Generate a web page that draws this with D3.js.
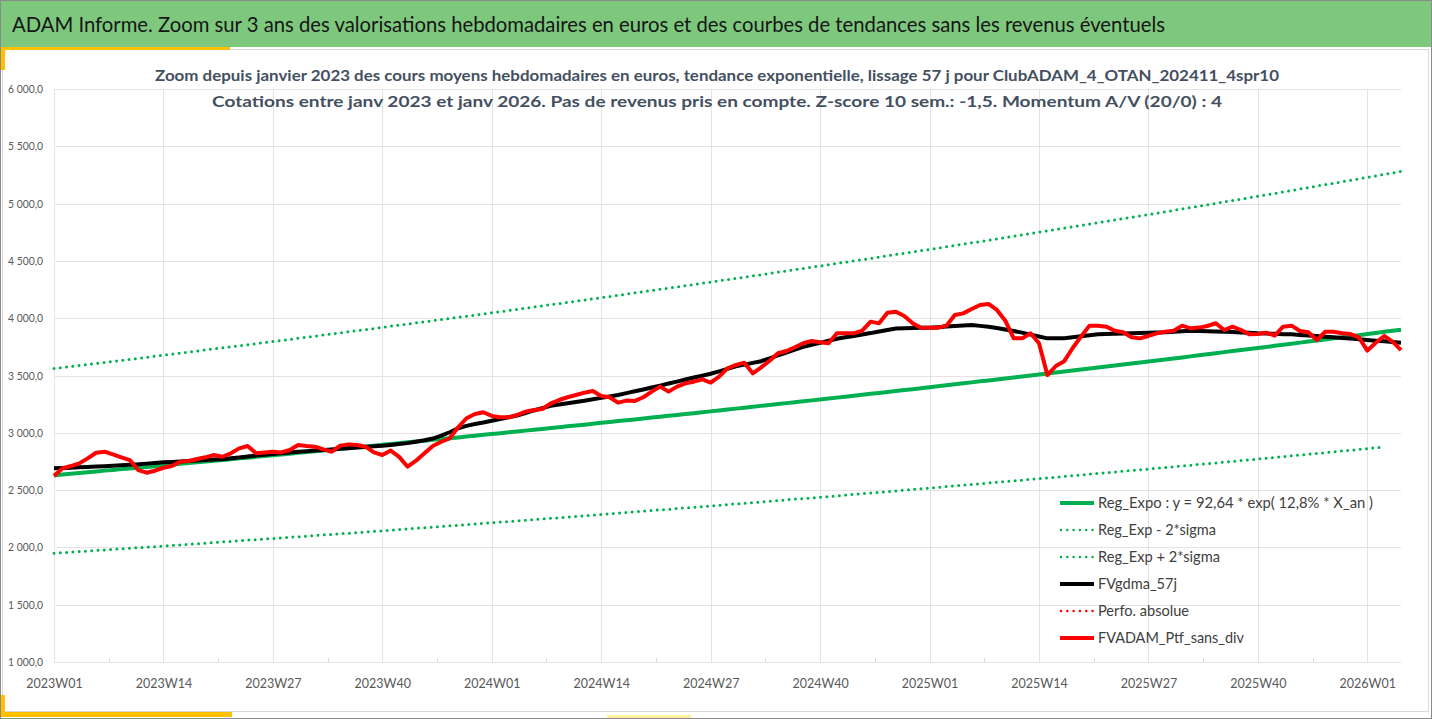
<!DOCTYPE html>
<html>
<head>
<meta charset="utf-8">
<script src="https://cdn.jsdelivr.net/npm/d3@7"></script>
<style>
  body { margin: 0; background: #fff; }
  svg { display: block; font-family: Lato, "Open Sans", sans-serif; }
</style>
</head>
<body>
<script>
// categories : semaines ISO 2023W01 .. 2026W05
const years = [2023, 2024, 2025];
const weeksPerYear = 52;
const lastYear = 2026;
const lastYearWeeks = 5;

const tickLabels = ["2023W01", "2023W14", "2023W27", "2023W40", "2024W01", "2024W14", "2024W27",
  "2024W40", "2025W01", "2025W14", "2025W27", "2025W40", "2026W01"];
const yTicks = [1000, 1500, 2000, 2500, 3000, 3500, 4000, 4500, 5000, 5500, 6000];

const titleText = "ADAM Informe. Zoom sur 3 ans des valorisations hebdomadaires en euros et des courbes de tendances sans les revenus éventuels";
const subTitle1 = "Zoom depuis janvier 2023 des cours moyens hebdomadaires  en euros, tendance exponentielle, lissage 57 j pour ClubADAM_4_OTAN_202411_4spr10";
const subTitle2 = "Cotations entre janv 2023 et janv 2026. Pas de revenus pris en compte. Z-score 10 sem.: -1,5. Momentum A/V (20/0) : 4";

// Reg_Expo
const regExpo = [
  2630, 2637, 2643, 2650, 2656, 2663, 2670, 2676, 2683, 2689, 2696, 2702, 2709,
  2716, 2722, 2729, 2736, 2743, 2750, 2756, 2763, 2770, 2777, 2783, 2790, 2797,
  2804, 2811, 2818, 2825, 2832, 2839, 2846, 2853, 2860, 2867, 2874, 2881, 2888,
  2895, 2902, 2910, 2917, 2924, 2931, 2939, 2946, 2953, 2960, 2968, 2975, 2982,
  2989, 2997, 3004, 3012, 3019, 3027, 3034, 3042, 3049, 3057, 3064, 3071, 3079,
  3087, 3094, 3102, 3110, 3117, 3125, 3133, 3141, 3148, 3156, 3164, 3171, 3179,
  3187, 3195, 3203, 3211, 3219, 3227, 3235, 3243, 3251, 3259, 3267, 3275, 3283,
  3291, 3299, 3307, 3315, 3324, 3332, 3340, 3348, 3356, 3365, 3373, 3381, 3389,
  3398, 3406, 3415, 3423, 3432, 3440, 3449, 3457, 3466, 3474, 3483, 3491, 3500,
  3508, 3517, 3526, 3534, 3543, 3552, 3561, 3570, 3578, 3587, 3596, 3605, 3613,
  3622, 3631, 3640, 3649, 3658, 3667, 3676, 3685, 3695, 3704, 3713, 3722, 3731,
  3740, 3749, 3759, 3768, 3777, 3787, 3796, 3806, 3815, 3824, 3834, 3843, 3852,
  3862, 3871, 3881, 3890, 3900
];

// Reg_Exp - 2*sigma
const regLow = [
  1949, 1954, 1959, 1964, 1968, 1973, 1978, 1983, 1988, 1993, 1998, 2002, 2007,
  2012, 2017, 2022, 2027, 2032, 2037, 2042, 2048, 2053, 2058, 2063, 2068, 2073,
  2078, 2083, 2088, 2093, 2099, 2104, 2109, 2114, 2119, 2124, 2129, 2135, 2140,
  2145, 2150, 2156, 2161, 2167, 2172, 2177, 2183, 2188, 2193, 2199, 2204, 2210,
  2215, 2221, 2226, 2232, 2237, 2243, 2248, 2254, 2259, 2265, 2270, 2276, 2281,
  2287, 2293, 2299, 2304, 2310, 2316, 2322, 2327, 2333, 2339, 2345, 2350, 2356,
  2362, 2368, 2374, 2380, 2385, 2391, 2397, 2403, 2409, 2415, 2421, 2426, 2432,
  2438, 2444, 2450, 2456, 2463, 2469, 2475, 2481, 2487, 2493, 2500, 2506, 2512,
  2518, 2524, 2531, 2537, 2543, 2550, 2556, 2562, 2569, 2575, 2581, 2587, 2594,
  2600, 2606, 2613, 2619, 2626, 2632, 2639, 2645, 2652, 2658, 2665, 2671, 2678,
  2684, 2691, 2697, 2704, 2711, 2717, 2724, 2731, 2737, 2744, 2751, 2758, 2764,
  2771, 2778, 2785, 2792, 2799, 2806, 2813, 2820, 2827, 2834, 2841, 2848, 2855,
  2862, 2869, 2876
];

// Reg_Exp + 2*sigma
const regHigh = [
  3561, 3570, 3579, 3588, 3597, 3606, 3615, 3623, 3632, 3641, 3650, 3659, 3668,
  3677, 3686, 3695, 3704, 3714, 3723, 3732, 3741, 3750, 3759, 3768, 3778, 3787,
  3796, 3806, 3815, 3825, 3834, 3844, 3853, 3863, 3872, 3882, 3891, 3901, 3910,
  3920, 3930, 3940, 3949, 3959, 3969, 3979, 3988, 3998, 4008, 4018, 4027, 4037,
  4047, 4057, 4067, 4077, 4088, 4098, 4108, 4118, 4128, 4138, 4149, 4159, 4169,
  4179, 4189, 4200, 4210, 4221, 4231, 4242, 4252, 4263, 4273, 4284, 4294, 4305,
  4315, 4326, 4337, 4348, 4358, 4369, 4380, 4391, 4402, 4413, 4424, 4434, 4445,
  4456, 4467, 4478, 4489, 4500, 4511, 4522, 4534, 4545, 4556, 4567, 4578, 4589,
  4600, 4612, 4623, 4635, 4646, 4658, 4669, 4681, 4692, 4704, 4715, 4727, 4738,
  4750, 4762, 4774, 4786, 4797, 4809, 4821, 4833, 4845, 4857, 4869, 4880, 4892,
  4904, 4916, 4929, 4941, 4953, 4966, 4978, 4990, 5002, 5015, 5027, 5039, 5052,
  5064, 5077, 5089, 5102, 5115, 5127, 5140, 5153, 5165, 5178, 5191, 5203, 5216,
  5229, 5242, 5255, 5268, 5281
];

// FVgdma_57j (moyenne lissée)
const fvGdma = [
  2690, 2693, 2696, 2699, 2702, 2705, 2709, 2713, 2717, 2721, 2725, 2731, 2737,
  2742, 2746, 2750, 2754, 2758, 2762, 2766, 2770, 2777, 2785, 2793, 2801, 2808,
  2815, 2821, 2828, 2834, 2840, 2845, 2850, 2855, 2860, 2865, 2871, 2876, 2882,
  2887, 2894, 2902, 2910, 2922, 2935, 2950, 2975, 3005, 3040, 3060, 3077, 3090,
  3105, 3120, 3135, 3150, 3172, 3195, 3215, 3235, 3247, 3258, 3269, 3280, 3292,
  3305, 3317, 3330, 3346, 3362, 3378, 3395, 3412, 3430, 3447, 3465, 3482, 3498,
  3515, 3536, 3558, 3580, 3595, 3610, 3625, 3650, 3675, 3700, 3725, 3750, 3768,
  3785, 3803, 3820, 3833, 3845, 3858, 3870, 3884, 3897, 3910, 3912, 3914, 3916,
  3917, 3922, 3927, 3932, 3936, 3940, 3933, 3925, 3915, 3901, 3888, 3874, 3857,
  3840, 3824, 3824, 3825, 3834, 3843, 3851, 3860, 3862, 3864, 3866, 3868, 3870,
  3872, 3875, 3877, 3882, 3886, 3891, 3889, 3886, 3884, 3882, 3879, 3875, 3872,
  3868, 3866, 3864, 3861, 3859, 3854, 3849, 3844, 3839, 3833, 3827, 3822, 3816,
  3810, 3804, 3798, 3792, 3786
];

// Perfo. absolue : pas de valeurs tracées
const perfoAbsolue = [];

// FVADAM_Ptf_sans_div
const fvAdam = [
  2623, 2690, 2710, 2733, 2777, 2826, 2835, 2812, 2786, 2762, 2675, 2652, 2669,
  2695, 2710, 2748, 2754, 2771, 2786, 2806, 2791, 2821, 2864, 2885, 2821, 2829,
  2835, 2829, 2850, 2893, 2885, 2879, 2855, 2835, 2888, 2899, 2893, 2879, 2829,
  2806, 2845, 2790, 2704, 2757, 2821, 2885, 2922, 2952, 3048, 3127, 3164, 3179,
  3147, 3135, 3135, 3155, 3184, 3199, 3208, 3257, 3286, 3310, 3330, 3350, 3365,
  3321, 3310, 3263, 3281, 3278, 3310, 3359, 3403, 3359, 3403, 3432, 3446, 3467,
  3438, 3490, 3563, 3592, 3612, 3519, 3571, 3629, 3694, 3714, 3746, 3781, 3801,
  3790, 3781, 3868, 3868, 3868, 3891, 3970, 3955, 4048, 4057, 4019, 3955, 3917,
  3917, 3917, 3935, 4028, 4042, 4080, 4115, 4124, 4072, 3978, 3824, 3824, 3868,
  3781, 3504, 3583, 3625, 3740, 3840, 3935, 3935, 3926, 3891, 3877, 3833, 3824,
  3845, 3868, 3882, 3891, 3935, 3912, 3918, 3932, 3956, 3897, 3926, 3897, 3859,
  3862, 3874, 3848, 3926, 3935, 3888, 3877, 3810, 3882, 3882, 3868, 3862, 3833,
  3717, 3786, 3845, 3795, 3722
];

const seriesNames = ["Reg_Expo : y = 92,64 * exp( 12,8% *  X_an )", "Reg_Exp - 2*sigma", "Reg_Exp + 2*sigma",
  "FVgdma_57j", "Perfo. absolue", "FVADAM_Ptf_sans_div"];

// build week list
const weeks = [];
years.forEach(yr => {
  for (let w = 1; w <= weeksPerYear; w++) weeks.push(yr + "W" + String(w).padStart(2, "0"));
});
for (let w = 1; w <= lastYearWeeks; w++) weeks.push(lastYear + "W" + String(w).padStart(2, "0"));

const W = 1432, H = 719;
const plot = {left: 54, right: 1401, top: 89, bottom: 662};

const svg = d3.select("body").append("svg")
    .attr("width", W)
    .attr("height", H);

svg.append("rect").attr("width", W).attr("height", H).attr("fill", "#fff");

// header bandeau
svg.append("rect")
    .attr("x", 0).attr("y", 0).attr("width", W).attr("height", 47)
    .attr("fill", "#7EC87E");
svg.append("text")
    .attr("x", 12).attr("y", 32)
    .attr("font-size", 20.5)
    .attr("fill", "#161616")
    .attr("textLength", 1153)
    .attr("lengthAdjust", "spacingAndGlyphs")
    .text(titleText);

// chart frame + yellow accents
svg.append("rect")
    .attr("x", 2.5).attr("y", 49.5).attr("width", 1426).attr("height", 662)
    .attr("fill", "none").attr("stroke", "#d9d9d9");
svg.append("rect").attr("x", 2).attr("y", 47).attr("width", 228).attr("height", 3).attr("fill", "#FFC000");
svg.append("rect").attr("x", 0).attr("y", 47).attr("width", 5).attr("height", 23).attr("fill", "#FFC000");
svg.append("rect").attr("x", 0).attr("y", 695).attr("width", 5).attr("height", 22).attr("fill", "#FFC000");
svg.append("rect").attr("x", 0).attr("y", 712).attr("width", 232).attr("height", 5).attr("fill", "#FFC000");
svg.append("rect").attr("x", 607).attr("y", 715).attr("width", 84).attr("height", 3).attr("fill", "#FFF0A0");

// scales
const x = d3.scalePoint().domain(weeks).range([plot.left, plot.right]);
const y = d3.scaleLinear().domain([1000, 6000]).range([plot.bottom, plot.top]);

const fr = d3.formatLocale({decimal: ",", thousands: " ", grouping: [3], currency: ["", " €"]});
const fmt = fr.format(",.1f");

// grid
const grid = svg.append("g").attr("class", "grid");
grid.selectAll(".hg").data(yTicks).enter().append("line")
    .attr("x1", plot.left).attr("x2", plot.right)
    .attr("y1", d => Math.round(y(d)) + 0.5).attr("y2", d => Math.round(y(d)) + 0.5)
    .attr("stroke", "#e3e3e3");
grid.selectAll(".vg").data(tickLabels).enter().append("line")
    .attr("x1", d => Math.round(x(d)) + 0.5).attr("x2", d => Math.round(x(d)) + 0.5)
    .attr("y1", plot.top).attr("y2", plot.bottom)
    .attr("stroke", "#e3e3e3");
// petites graduations intermédiaires
const minorTicks = tickLabels.map(t => x(t) + x.step() * 6.5).filter(v => v < plot.right);
grid.selectAll(".mt").data(minorTicks).enter().append("line")
    .attr("x1", d => Math.round(d) + 0.5).attr("x2", d => Math.round(d) + 0.5)
    .attr("y1", plot.bottom - 4).attr("y2", plot.bottom)
    .attr("stroke", "#d9d9d9");

// axes
const yAxis = svg.append("g")
    .attr("transform", `translate(${plot.left - 11},0)`)
    .call(d3.axisLeft(y).tickValues(yTicks).tickFormat(fmt).tickSize(0));
yAxis.select(".domain").remove();
yAxis.selectAll("text")
    .attr("x", 0)
    .attr("font-family", "Lato, sans-serif")
    .attr("font-size", 11)
    .attr("fill", "#595959")
    .attr("textLength", 35)
    .attr("lengthAdjust", "spacingAndGlyphs");

const xAxis = svg.append("g")
    .attr("transform", `translate(0,${plot.bottom + 14})`)
    .call(d3.axisBottom(x).tickValues(tickLabels).tickSize(0));
xAxis.select(".domain").remove();
xAxis.selectAll("text")
    .attr("font-family", "Lato, sans-serif")
    .attr("font-size", 12.5)
    .attr("fill", "#595959");

// subtitles
[[subTitle1, 81, 1124], [subTitle2, 107, 1010]].forEach(([t, yy, len]) => {
  svg.append("text")
      .attr("x", 717).attr("y", yy)
      .attr("text-anchor", "middle")
      .attr("font-size", 15.5).attr("font-weight", "bold")
      .attr("fill", "#44505f")
      .attr("textLength", len)
      .attr("lengthAdjust", "spacingAndGlyphs")
      .text(t);
});

// series
const green = "#00B050";
const series = [
  {name: seriesNames[0], values: regExpo, color: green, dotted: false, width: 4},
  {name: seriesNames[1], values: regLow, color: green, dotted: true, width: 3},
  {name: seriesNames[2], values: regHigh, color: green, dotted: true, width: 3},
  {name: seriesNames[3], values: fvGdma, color: "#000000", dotted: false, width: 4},
  {name: seriesNames[4], values: perfoAbsolue, color: "#FF0000", dotted: true, width: 3},
  {name: seriesNames[5], values: fvAdam, color: "#FF0000", dotted: false, width: 4}
];

const line = d3.line()
    .x((d, i) => x(weeks[i]))
    .y(d => y(d));

const gLines = svg.append("g").attr("class", "lines");
series.forEach(s => {
  if (!s.values.length) return;
  gLines.append("path")
      .datum(s.values)
      .attr("d", line)
      .attr("fill", "none")
      .attr("stroke", s.color)
      .attr("stroke-width", s.width)
      .attr("stroke-linejoin", "round")
      .attr("stroke-linecap", s.dotted ? "round" : "butt")
      .attr("stroke-dasharray", s.dotted ? "0 6.3" : null);
});

// legend
const legendRows = [503, 530, 557, 584, 611, 638];
const legendWidths = [275, 118, 122, 79, 91, 146];
const legend = svg.append("g").attr("class", "legend");
series.forEach((s, i) => {
  const g = legend.append("g").attr("transform", `translate(1060,${legendRows[i]})`);
  g.append("line")
      .attr("x1", s.dotted ? 1 : 0).attr("x2", 34)
      .attr("y1", 0).attr("y2", 0)
      .attr("stroke", s.color)
      .attr("stroke-width", s.dotted ? 2.5 : 4)
      .attr("stroke-linecap", s.dotted ? "round" : "butt")
      .attr("stroke-dasharray", s.dotted ? "0 6.3" : null);
  g.append("text")
      .attr("x", 38).attr("y", 5)
      .attr("font-size", 15)
      .attr("fill", "#404040")
      .attr("textLength", legendWidths[i])
      .attr("lengthAdjust", "spacingAndGlyphs")
      .text(s.name);
});

// outer border
svg.append("rect")
    .attr("x", 0.5).attr("y", 0.5).attr("width", W - 1).attr("height", H - 1)
    .attr("fill", "none").attr("stroke", "#8a8a8a");
</script>
</body>
</html>
